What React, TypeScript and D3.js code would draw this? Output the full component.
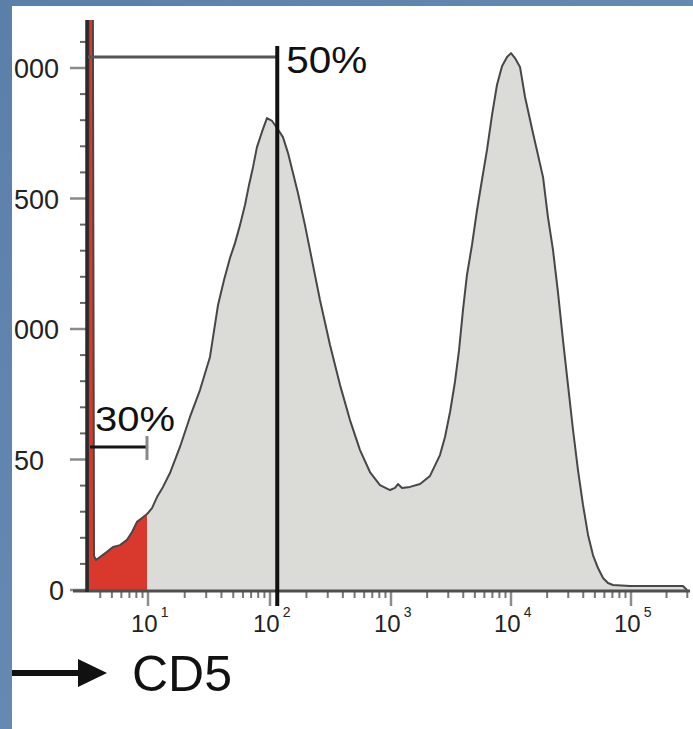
import React from "react";
import * as d3 from "d3";

// Histogram outline: x in log10(CD5) units, y in cell counts
const logCD5 = [
  0.5, 0.505, 0.54, 0.55, 0.567, 0.6, 0.658, 0.708, 0.767, 0.825, 0.867, 0.908, 0.95, 0.992,
  1.033, 1.074, 1.123, 1.18, 1.262, 1.344, 1.426, 1.508, 1.574, 1.623, 1.672, 1.713, 1.754, 1.795,
  1.828, 1.861, 1.893, 1.934, 1.975, 2.017, 2.058, 2.107, 2.149, 2.19, 2.231, 2.289, 2.347, 2.413,
  2.496, 2.579, 2.661, 2.744, 2.826, 2.909, 2.992, 3.033, 3.058, 3.092, 3.158, 3.242, 3.325, 3.408,
  3.45, 3.492, 3.533, 3.567, 3.6, 3.633, 3.675, 3.717, 3.758, 3.8, 3.842, 3.883, 3.925, 3.967,
  4.0, 4.033, 4.075, 4.117, 4.183, 4.267, 4.308, 4.35, 4.392, 4.433, 4.475, 4.517, 4.558, 4.6,
  4.642, 4.683, 4.725, 4.767, 4.808, 4.85, 4.992, 5.246, 5.44, 5.475,
];
const counts = [
  0, 2400, 2400, 130, 115, 126, 146, 165, 172, 192, 222, 261, 276, 291,
  314, 356, 395, 448, 548, 663, 766, 893, 1092, 1188, 1272, 1329, 1398, 1475,
  1552, 1621, 1697, 1755, 1808, 1797, 1770, 1735, 1674, 1598, 1521, 1398, 1264, 1111,
  939, 785, 651, 536, 452, 402, 383, 391, 406, 391, 395, 406, 437, 517,
  586, 682, 797, 919, 1073, 1207, 1322, 1456, 1571, 1686, 1820, 1935, 2007, 2042,
  2057, 2038, 2004, 1889, 1751, 1582, 1429, 1303, 1138, 958, 785, 613, 460, 326,
  211, 134, 84, 46, 27, 19, 15, 15, 15, 0,
];

const yTickValues = [0, 500, 1000, 1500, 2000];
const yTickLabels = ["0", "50", "000", "500", "000"];
const xDecades = [1, 2, 3, 4, 5];
const xBaseLabel = "10";
const xExpLabels = ["1", "2", "3", "4", "5"];
const gateHigh = { start: 0.5, end: 2.06, level: 2042, label: "50%" };
const gateLow = { start: 0.5, end: 1.0, level: 548, label: "30%" };
const positiveCutoff = 1.0;
const axisTitle = "CD5";

const FONT = "'Liberation Sans', Arial, Helvetica, sans-serif";

export default function App() {
  const W = 693;
  const H = 729;
  const plotTop = 20;

  const x = d3
    .scaleLinear()
    .domain([0.5, 1, 2, 3, 4, 5, 5.5])
    .range([88, 148, 270, 391, 511, 631, 690]);
  const y = d3.scaleLinear().domain([0, 2000]).range([590, 68]);

  const pts: [number, number][] = logCD5.map((v, i) => [v, counts[i]]);
  const area = d3
    .area<[number, number]>()
    .x((d) => x(d[0]))
    .y0(y(0))
    .y1((d) => y(d[1]));
  const line = d3
    .line<[number, number]>()
    .x((d) => x(d[0]))
    .y((d) => y(d[1]));

  const xMinor: number[] = [];
  for (let d = 0; d <= 5; d++) {
    for (let k = 2; k <= 9; k++) {
      const v = d + Math.log10(k);
      if (v >= 0.5 && v <= 5.5) xMinor.push(v);
    }
  }
  const yMinor: number[] = [];
  for (let v = 100; v <= 2100; v += 100) if (v % 500 !== 0) yMinor.push(v);

  const x0 = x(0.5);
  const y0 = y(0);

  return (
    <div style={{ position: "absolute", left: 0, top: 0 }}>
      <svg width={W} height={H} style={{ display: "block" }}>
        <defs>
          <clipPath id="plotClip">
            <rect x={x0} y={plotTop} width={W - x0} height={y0 - plotTop + 1} />
          </clipPath>
          <clipPath id="redClip">
            <rect x={x0} y={plotTop} width={x(positiveCutoff) - x0 - 1} height={y0 - plotTop + 1} />
          </clipPath>
          <linearGradient id="bgGrad" x1="0" y1="0" x2="1" y2="1">
            <stop offset="0" stopColor="#5a7fa8" />
            <stop offset="0.5" stopColor="#6689b2" />
            <stop offset="1" stopColor="#587ca5" />
          </linearGradient>
        </defs>

        {/* background */}
        <rect x={0} y={0} width={W} height={H} fill="url(#bgGrad)" />
        <rect x={12} y={6} width={W - 12} height={H - 6} fill="#ffffff" />

        {/* histogram */}
        <g clipPath="url(#plotClip)">
          <path d={area(pts) || ""} fill="#dbdbd7" />
          <path d={area(pts) || ""} fill="#d8392c" clipPath="url(#redClip)" />
          <path d={line(pts) || ""} fill="none" stroke="#474747" strokeWidth={2} strokeLinejoin="round" />
        </g>

        {/* y axis ticks */}
        {yMinor.map((v) => (
          <line key={"ym" + v} x1={80} x2={87} y1={y(v)} y2={y(v)} stroke="#666" strokeWidth={2} />
        ))}
        {yTickValues.map((v) => (
          <line key={"yM" + v} x1={70} x2={87} y1={y(v)} y2={y(v)} stroke="#8a8a8a" strokeWidth={2.5} />
        ))}
        {yTickValues.map((v, i) => {
          const lab = yTickLabels[i];
          const isZero = lab === "0";
          return (
            <text
              key={"yl" + v}
              x={isZero ? 64 : 14}
              y={y(v) + 10}
              textAnchor={isZero ? "end" : "start"}
              fontFamily={FONT}
              fontSize={27}
              fill="#222"
            >
              {lab}
            </text>
          );
        })}

        {/* x axis ticks */}
        {xMinor.map((v) => (
          <line key={"xm" + v} x1={x(v)} x2={x(v)} y1={y0} y2={y0 + 8} stroke="#777" strokeWidth={2} />
        ))}
        {xDecades.map((v) => (
          <line key={"xM" + v} x1={x(v)} x2={x(v)} y1={y0} y2={y0 + 16} stroke="#8c8c8c" strokeWidth={2.5} />
        ))}
        {xDecades.map((v, i) => (
          <text key={"xl" + v} x={x(v) - 17} y={y0 + 42} fontFamily={FONT} fontSize={24} fill="#222">
            {xBaseLabel}
            <tspan dx={3} dy={-15} fontSize={14}>
              {xExpLabels[i]}
            </tspan>
          </text>
        ))}

        {/* axes */}
        <line x1={73} x2={690} y1={y0 + 1} y2={y0 + 1} stroke="#4f4f4f" strokeWidth={3} />
        <line x1={87} x2={87} y1={plotTop} y2={y0 + 2} stroke="#2a2a2a" strokeWidth={3.5} />

        {/* 50% gate */}
        <line
          x1={x(gateHigh.start)}
          x2={x(gateHigh.end)}
          y1={y(gateHigh.level)}
          y2={y(gateHigh.level)}
          stroke="#555"
          strokeWidth={3}
        />
        <line
          x1={x(gateHigh.end)}
          x2={x(gateHigh.end)}
          y1={y(gateHigh.level) - 11}
          y2={y0 + 16}
          stroke="#111"
          strokeWidth={4}
        />
        <text
          x={x(gateHigh.end) + 9}
          y={y(gateHigh.level) + 16}
          fontFamily={FONT}
          fontSize={36}
          textLength={81}
          lengthAdjust="spacingAndGlyphs"
          fill="#111"
        >
          {gateHigh.label}
        </text>

        {/* 30% gate */}
        <line
          x1={x(gateLow.start) + 2}
          x2={x(gateLow.end) - 1}
          y1={y(gateLow.level)}
          y2={y(gateLow.level)}
          stroke="#151515"
          strokeWidth={3}
        />
        <line
          x1={x(gateLow.end) - 1}
          x2={x(gateLow.end) - 1}
          y1={y(gateLow.level) - 11}
          y2={y(gateLow.level) + 13}
          stroke="#888"
          strokeWidth={3}
        />
        <text
          x={x(gateLow.start) + 7}
          y={y(gateLow.level) - 16}
          fontFamily={FONT}
          fontSize={35}
          textLength={80}
          lengthAdjust="spacingAndGlyphs"
          fill="#111"
        >
          {gateLow.label}
        </text>

        {/* axis title with arrow */}
        <line x1={12} x2={82} y1={673} y2={673} stroke="#111" strokeWidth={6} />
        <path d="M78,659 L107,673 L78,687 Z" fill="#111" />
        <text x={132} y={691} fontFamily={FONT} fontSize={50} fill="#111">
          {axisTitle}
        </text>
      </svg>
    </div>
  );
}
